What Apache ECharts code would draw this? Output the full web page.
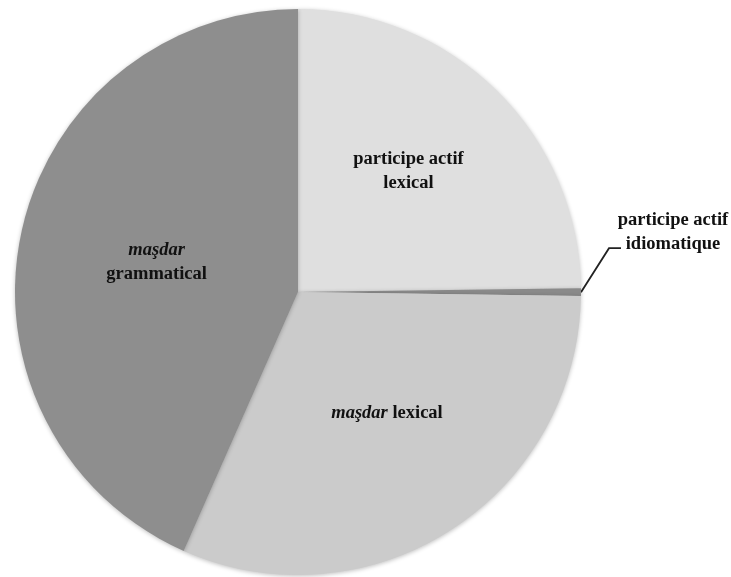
<!DOCTYPE html>
<html>
<head>
<meta charset="utf-8">
<script src="https://cdn.jsdelivr.net/npm/echarts@6/dist/echarts.min.js"></script>
<style>
html, body { margin: 0; padding: 0; background: #fff; }
#main { width: 731px; height: 577px; }
</style>
</head>
<body>
<div id="main"></div>
<script>
var names = ['participe actif lexical', 'participe actif idiomatique', 'maşdar lexical', 'maşdar grammatical'];
var labels = ['participe actif\nlexical', 'participe actif\nidiomatique', '{i|maşdar} lexical', '{i|maşdar}\ngrammatical'];
var values = [24.8, 0.44, 31.4, 43.4];
var colors = ['#dfdfdf', '#8a8a8a', '#cbcbcb', '#8e8e8e'];

var myChart = echarts.init(document.getElementById('main'));

var pieData = values.map(function (v, i) {
	var item = {
		name: names[i],
		value: v,
		itemStyle: { color: colors[i] },
		label: {
			formatter: labels[i]
		}
	};
	if (i === 1) {
		item.label.position = 'outside';
		item.labelLine = {
			show: true,
			length: 30,
			length2: 10,
			lineStyle: { color: '#222', width: 1.8 }
		};
	}
	return item;
});

var option = {
	animation: false,
	series: [{
		type: 'pie',
		center: [298, 292],
		radius: 283,
		startAngle: 90,
		clockwise: true,
		label: {
			position: 'inside',
			fontFamily: 'Liberation Serif',
			fontWeight: 'bold',
			fontSize: 18.5,
			lineHeight: 24,
			color: '#111',
			overflow: 'none',
			rich: {
				i: {
					fontFamily: 'Liberation Serif',
					fontWeight: 'bold',
					fontStyle: 'italic',
					fontSize: 18.5,
					lineHeight: 24,
					color: '#111'
				}
			}
		},
		labelLine: { show: false },
		itemStyle: {
			borderWidth: 0,
			shadowBlur: 4,
			shadowColor: 'rgba(0,0,0,0.25)',
			shadowOffsetY: 1
		},
		emphasis: { disabled: true },
		labelLayout: function (params) {
			if (params.dataIndex === 0) {
				return { dx: 9, dy: -18 };
			}
			if (params.dataIndex === 2) {
				return { dx: 11 };
			}
			if (params.dataIndex === 1 && params.labelLinePoints) {
				// move the small slice's label up and to the right, with a bent leader line
				var p0 = params.labelLinePoints[0];
				return {
					x: p0[0] + 92,
					y: p0[1] - 60,
					align: 'center',
					verticalAlign: 'middle',
					labelLinePoints: [
						p0,
						[p0[0] + 28, p0[1] - 44],
						[p0[0] + 40, p0[1] - 44]
					]
				};
			}
			return {};
		},
		data: pieData
	}]
};

myChart.setOption(option);
</script>
</body>
</html>
